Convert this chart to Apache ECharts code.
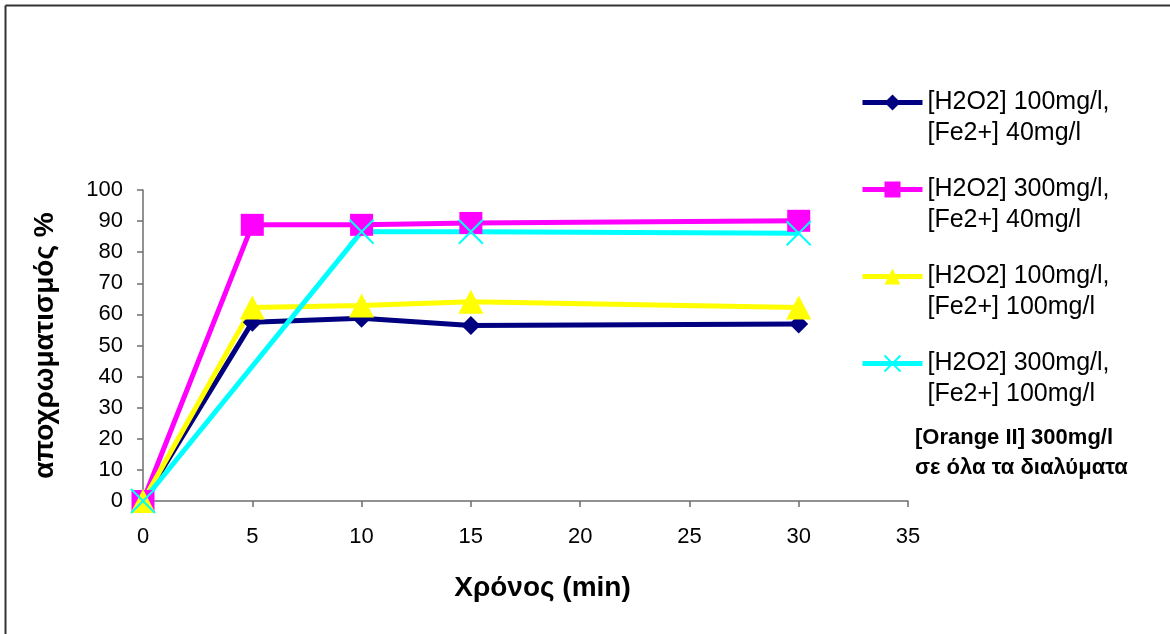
<!DOCTYPE html>
<html>
<head>
<meta charset="utf-8">
<script src="https://cdn.jsdelivr.net/npm/echarts@6/dist/echarts.min.js"></script>
<style>
html,body{margin:0;padding:0;background:#fff;}
#chart{width:1170px;height:634px;}
</style>
</head>
<body>
<div id="chart"></div>
<script>
// ---- data ----
var times = [0, 5, 10, 15, 30];
var seriesNames = [
  "[H2O2] 100mg/l,\n[Fe2+] 40mg/l",
  "[H2O2] 300mg/l,\n[Fe2+] 40mg/l",
  "[H2O2] 100mg/l,\n[Fe2+] 100mg/l",
  "[H2O2] 300mg/l,\n[Fe2+] 100mg/l"
];
var h100fe40 = [0, 57.5, 58.8, 56.4, 56.9];
var h300fe40 = [0, 88.8, 88.8, 89.4, 90.1];
var h100fe100 = [0, 62.2, 62.9, 64.1, 62.2];
var h300fe100 = [0, null, 86.6, 86.6, 86.1];
var xTicks = [0, 5, 10, 15, 20, 25, 30, 35];
var yTicks = [0, 10, 20, 30, 40, 50, 60, 70, 80, 90, 100];
var noteLines = ["[Orange II] 300mg/l", "σε όλα τα διαλύματα"];
var xTitle = "Χρόνος (min)";
var yTitle = "αποχρωματισμός %";

function pairs(vals) {
  return times.map(function (t, i) { return [t, vals[i]]; });
}

var FONT = "'Liberation Sans', Arial, sans-serif";
var chart = echarts.init(document.getElementById('chart'));

var colors = ['#000080', '#FF00FF', '#FFFF00', '#00FFFF'];
var crossPath = 'path://M0,0L10,10M10,0L0,10';

var option = {
  animation: false,
  backgroundColor: '#fff',
  textStyle: { fontFamily: FONT },
  grid: { left: 143, top: 190, width: 765, height: 311, containLabel: false },
  xAxis: {
    type: 'value', min: 0, max: 35, interval: 5,
    name: xTitle, nameLocation: 'middle', nameGap: 73,
    nameTextStyle: { fontFamily: FONT, fontSize: 28, fontWeight: 'bold', color: '#000', padding: [0, 0, 0, 34] },
    axisLine: { show: true, onZero: false, lineStyle: { color: '#6e6e6e', width: 1.5 } },
    axisTick: { show: true, length: 6, lineStyle: { color: '#6e6e6e', width: 1.5 } },
    axisLabel: { margin: 25, fontSize: 22, color: '#000', fontFamily: FONT,
      formatter: function (v) { return xTicks.indexOf(v) >= 0 ? String(v) : ''; } },
    splitLine: { show: false }
  },
  yAxis: {
    type: 'value', min: 0, max: 100, interval: 10,
    name: yTitle, nameLocation: 'middle', nameGap: 84, nameRotate: 90,
    nameTextStyle: { fontFamily: FONT, fontSize: 28, fontWeight: 'bold', color: '#000' },
    axisLine: { show: true, lineStyle: { color: '#6e6e6e', width: 1.5 } },
    axisTick: { show: true, length: 6, lineStyle: { color: '#6e6e6e', width: 1.5 } },
    axisLabel: { margin: 20, fontSize: 22, color: '#000', fontFamily: FONT,
      formatter: function (v) { return yTicks.indexOf(v) >= 0 ? String(v) : ''; } },
    splitLine: { show: false }
  },
  legend: {
    orient: 'vertical', left: 860, top: 56, padding: 0,
    itemWidth: 60, itemHeight: 20, itemGap: -6,
    lineStyle: { width: 5 },
    formatter: function (n) { return '\u00a0\n' + n; },
    textStyle: { fontFamily: FONT, fontSize: 25, color: '#000', lineHeight: 31 },
    data: seriesNames
  },
  graphic: [
    { type: 'line', shape: { x1: 5.5, y1: 5.5, x2: 1170, y2: 5.5 }, style: { stroke: '#333', lineWidth: 2 } },
    { type: 'line', shape: { x1: 5.5, y1: 5.5, x2: 5.5, y2: 634 }, style: { stroke: '#333', lineWidth: 2 } },
    { type: 'text', left: 915, top: 427, style: { text: noteLines[0], font: 'bold 22px ' + FONT, fill: '#000' } },
    { type: 'text', left: 915, top: 457, style: { text: noteLines[1], font: 'bold 22px ' + FONT, fill: '#000' } }
  ],
  series: [
    { name: seriesNames[0], type: 'line', data: pairs(h100fe40), symbol: 'diamond', symbolSize: [19, 19],
      lineStyle: { color: colors[0], width: 5 }, itemStyle: { color: colors[0] } },
    { name: seriesNames[1], type: 'line', data: pairs(h300fe40), symbol: 'rect', symbolSize: [23, 22],
      lineStyle: { color: colors[1], width: 5 }, itemStyle: { color: colors[1] } },
    { name: seriesNames[2], type: 'line', data: pairs(h100fe100), symbol: 'triangle', symbolSize: [25, 24],
      lineStyle: { color: colors[2], width: 5 }, itemStyle: { color: colors[2] } },
    { name: seriesNames[3], type: 'line', data: pairs(h300fe100), connectNulls: true, symbol: crossPath, symbolSize: [24, 24],
      lineStyle: { color: colors[3], width: 5 },
      itemStyle: { color: 'none', borderColor: colors[3], borderWidth: 2 } }
  ]
};
chart.setOption(option);
</script>
</body>
</html>
